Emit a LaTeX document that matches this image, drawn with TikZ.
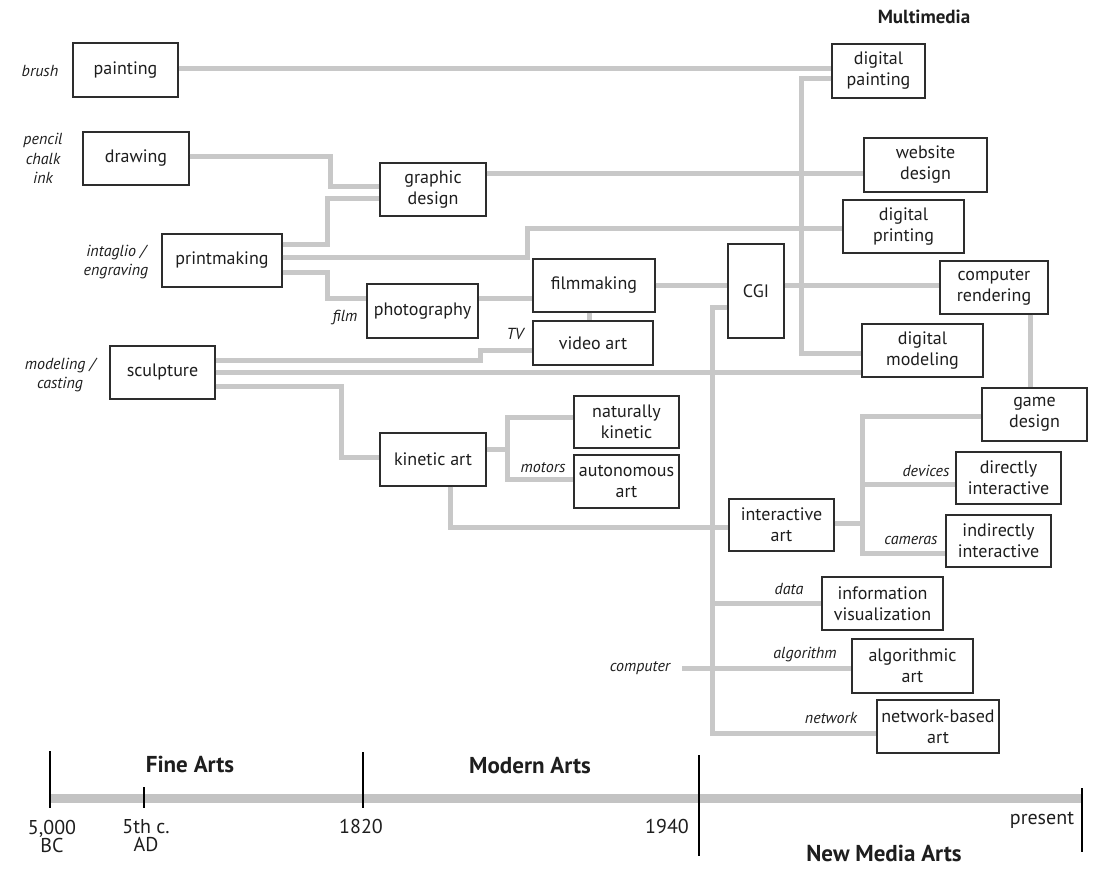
\documentclass[tikz,border=0pt]{standalone}
\usepackage{fontspec}
\setmainfont{PT Sans}
\usepackage{tikz}
\definecolor{linegray}{RGB}{200,200,200}
\definecolor{bargray}{RGB}{195,195,195}
\definecolor{boxline}{RGB}{45,45,45}
\definecolor{txt}{RGB}{30,30,30}

\begin{document}
\begin{tikzpicture}[x=1pt,y=-1pt,
  box/.style={draw=boxline,line width=1.3pt,fill=white,align=center,inner sep=0pt,
    font=\fontsize{18}{21}\selectfont,text=txt,minimum width=105,minimum height=53},
  conn/.style={draw=linegray,line width=5pt},
  tag/.style={font=\itshape\fontsize{16}{19.5}\selectfont,text=txt,align=center,inner sep=0pt},
  head/.style={font=\bfseries\fontsize{19}{22}\selectfont,text=txt,inner sep=0pt},
  era/.style={font=\bfseries\fontsize{23}{25}\selectfont,text=txt,inner sep=0pt},
  year/.style={font=\fontsize{20}{18}\selectfont,text=txt,align=center,inner sep=0pt}]

\useasboundingbox (0,0) rectangle (1104,869);

\node[box,minimum height=54] (painting) at (125.5,70) {painting};
\node[box,minimum width=106] (drawing) at (136,158.5) {drawing};
\node[box,minimum width=106] (gdesign) at (433,189.5) {graphic\\design};
\node[box,minimum width=120] (printmaking) at (222,260.5) {printmaking};
\node[box,minimum width=111,minimum height=54] (photo) at (422.5,311) {photography};
\node[box,minimum width=122] (film) at (594,285.5) {filmmaking};
\node[box,minimum width=120,minimum height=44] (video) at (593,343) {video art};
\node[box] (sculpture) at (162.5,372.5) {sculpture};
\node[box,minimum width=106] (kinetic) at (433,459.5) {kinetic art};
\node[box,minimum height=52] (natkin) at (626.5,422) {naturally\\kinetic};
\node[box] (autonomous) at (626.5,481.5) {autonomous\\art};
\node[box,minimum width=93,minimum height=54] (dpaint) at (878.5,71) {digital\\painting};
\node[box,minimum width=123,minimum height=54] (website) at (925.5,165) {website\\design};
\node[box,minimum width=121] (dprint) at (903.5,226.5) {digital\\printing};
\node[box,minimum width=56,minimum height=94] (cgi) at (756,291) {CGI};
\node[box,minimum width=108] (render) at (994,287.5) {computer\\rendering};
\node[box,minimum width=121] (dmodel) at (922.5,350.5) {digital\\modeling};
\node[box] (game) at (1034.5,414.5) {game\\design};
\node[box,minimum height=52] (direct) at (1008.5,478) {directly\\interactive};
\node[box,minimum height=52] (interactive) at (781.5,525) {interactive\\art};
\node[box,minimum height=52] (indirect) at (998.5,541) {indirectly\\interactive};
\node[box,minimum width=121] (infovis) at (882.5,603.5) {information\\visualization};
\node[box,minimum width=121,minimum height=54] (algo) at (912.5,666) {algorithmic\\art};
\node[box,minimum width=122] (netart) at (938,726.5) {network-based\\art};

\node[tag] (brush) at (40,71) {brush};
\node[tag] (pencil) at (43,158.5) {pencil\\chalk\\ink};
\node[tag] (intaglio) at (116,262) {intaglio /\\engraving};
\node[tag] (filmtag) at (345,318) {film};
\node[tag] (tv) at (515,334) {TV};
\node[tag] (modeling) at (60,375) {modeling /\\casting};
\node[tag] (motors) at (543,468) {motors};
\node[tag] (devices) at (926,471) {devices};
\node[tag] (cameras) at (911,540) {cameras};
\node[tag] (data) at (789,589) {data};
\node[tag] (algotag) at (805,655) {algorithm};
\node[tag] (computer) at (640,668) {computer};
\node[tag] (network) at (831,718) {network};

\node[head] (multimedia) at (924,17) {Multimedia};

\coordinate (trunk) at (712,308);
\coordinate (ibranch) at (862,523);

\draw[conn] (painting.east |- 0,69) -- (dpaint.west |- 0,69);
\draw[conn] (drawing.east |- 0,157) -| (330,187) -- (gdesign.west |- 0,187);
\draw[conn] (printmaking.east |- 0,245) -| (327,199) -- (gdesign.west |- 0,199);
\draw[conn] (printmaking.east |- 0,258) -| (527,229) -- (dprint.west |- 0,229);
\draw[conn] (printmaking.east |- 0,273) -| (327,299) -- (photo.west |- 0,299);
\draw[conn] (gdesign.east |- 0,174) -- (website.west |- 0,174);
\draw[conn] (photo.east |- 0,299) -- (film.west |- 0,299);
\draw[conn] (film.south -| 589,0) -- (video.north -| 589,0);
\draw[conn] (film.east |- 0,286) -- (cgi.west |- 0,286);
\draw[conn] (cgi.east |- 0,286) -- (render.west |- 0,286);
\draw[conn] (dpaint.west |- 0,79) -| (801,353) -- (dmodel.west |- 0,353);
\draw[conn] (sculpture.east |- 0,360) -| (480,350) -- (video.west |- 0,350);
\draw[conn] (sculpture.east |- 0,372) -- (dmodel.west |- 0,372);
\draw[conn] (sculpture.east |- 0,386) -| (341,457) -- (kinetic.west |- 0,457);
\draw[conn] (kinetic.east |- 0,449) -- (507,449);
\draw[conn] (natkin.west |- 0,417) -| (507,479) -- (autonomous.west |- 0,479);
\draw[conn] (kinetic.south -| 450,0) |- (interactive.west |- 0,527);
\draw[conn] (cgi.west |- trunk) -- (trunk) |- (netart.west |- 0,733);
\draw[conn] (trunk |- 0,603) -- (infovis.west |- 0,603);
\draw[conn] ([xshift=12pt]computer.east) -- (algo.west |- computer.east);
\draw[conn] (interactive.east |- ibranch) -- (ibranch);
\draw[conn] (game.west |- 0,416) -| (862,553) -- (indirect.west |- 0,553);
\draw[conn] (ibranch |- 0,484) -- (direct.west |- 0,484);
\draw[conn] (render.south -| 1030,0) -- (game.north -| 1030,0);

\draw[bargray,line width=9pt] (50,798) -- (1082,798);
\draw[black,line width=1.3pt] (50,751) -- (50,808);
\draw[black,line width=1.3pt] (144,787) -- (144,808);
\draw[black,line width=1.3pt] (363,752) -- (363,808);
\draw[black,line width=1.3pt] (699,755) -- (699,856);
\draw[black,line width=1.3pt] (1082,788) -- (1082,852);

\node[era] (finearts) at (190,764) {Fine Arts};
\node[era] (modernarts) at (530,766) {Modern Arts};
\node[era] (newmedia) at (884,853) {New Media Arts};
\node[year] (bc) at (52,836) {5,000\\BC};
\node[year] (ad) at (146,836) {5th c.\\AD};
\node[year] (y1820) at (361,826) {1820};
\node[year] (y1940) at (667,826) {1940};
\node[year] (present) at (1042,820) {present};
\end{tikzpicture}
\end{document}
